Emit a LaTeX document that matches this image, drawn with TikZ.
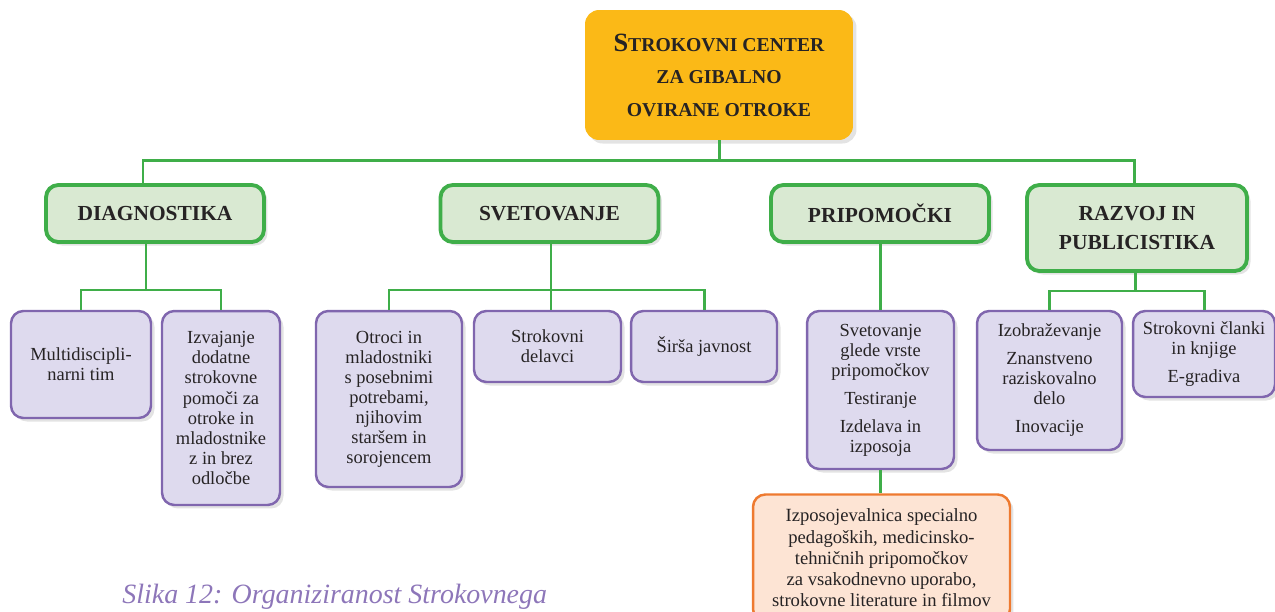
\documentclass[tikz,border=0pt]{standalone}
\usepackage{fontspec}
\setmainfont{Liberation Serif}
\usetikzlibrary{calc,shadows}

\definecolor{topfill}{HTML}{FBB917}
\definecolor{grline}{HTML}{3FAE49}
\definecolor{grfill}{HTML}{D9E9D2}
\definecolor{puline}{HTML}{8066AE}
\definecolor{pufill}{HTML}{DEDAEE}
\definecolor{orline}{HTML}{EE7A30}
\definecolor{orfill}{HTML}{FDE4D4}
\definecolor{captext}{HTML}{8D76B9}
\definecolor{inktext}{HTML}{262324}

\newcommand{\firstcap}[1]{{\fontsize{15}{20}\selectfont #1}}

\tikzset{
  softshadow/.style={drop shadow={shadow xshift=2pt, shadow yshift=-2pt, opacity=0.18, fill=black!60}},
  link/.style={grline, line width=1.7pt},
  topbox/.style={fill=topfill, rounded corners=8pt, inner sep=0pt, align=center, text=inktext,
    font=\fontsize{11.2}{18.5}\selectfont\bfseries, softshadow},
  headbox/.style={draw=grline, fill=grfill, line width=2.2pt, rounded corners=7pt, inner sep=0pt,
    align=center, text=inktext, font=\fontsize{12.2}{17}\selectfont\bfseries, softshadow},
  leafbox/.style={draw=puline, fill=pufill, line width=1.4pt, rounded corners=7pt, inner sep=0pt,
    align=center, text=inktext, font=\fontsize{10.5}{11.4}\selectfont, softshadow},
  lendbox/.style={leafbox, draw=orline, fill=orfill, font=\fontsize{10.6}{12.1}\selectfont},
}

\begin{document}
\begin{tikzpicture}[x=0.02cm, y=-0.02cm]
	\useasboundingbox (0,0) rectangle (1275,612);
	% top
	\node[topbox, minimum width=5.36cm, minimum height=2.6cm] (top) at (719,75)
		{\firstcap{S}TROKOVNI CENTER\\ ZA GIBALNO\\ OVIRANE OTROKE};
	% second level
	\node[headbox, minimum width=4.36cm, minimum height=1.14cm] (diag) at (155,213.5) {DIAGNOSTIKA};
	\node[headbox, minimum width=4.36cm, minimum height=1.14cm] (svet) at (549.5,213.5) {SVETOVANJE};
	\node[headbox, minimum width=4.36cm, minimum height=1.14cm] (prip) at (880,213.5) {PRIPOMOČKI};
	\node[headbox, minimum width=4.4cm, minimum height=1.72cm] (razv) at (1137,228) {RAZVOJ IN\\ PUBLICISTIKA};
	% third level
	\node[leafbox, minimum width=2.8cm, minimum height=2.14cm] (multi) at (81,364.5) {Multidiscipli-\\ narni tim};
	\node[leafbox, minimum width=2.36cm, minimum height=3.88cm] (izv) at (221,408)
		{Izvajanje\\ dodatne\\ strokovne\\ pomoči za\\ otroke in\\ mladostnike\\ z in brez\\ odločbe};
	\node[leafbox, minimum width=2.92cm, minimum height=3.52cm] (otroci) at (389,399)
		{Otroci in\\ mladostniki\\ s posebnimi\\ potrebami,\\ njihovim\\ staršem in\\ sorojencem};
	\node[leafbox, minimum width=2.94cm, minimum height=1.42cm] (strok) at (547.5,346.5) {Strokovni\\ delavci};
	\node[leafbox, minimum width=2.92cm, minimum height=1.42cm] (sirsa) at (704,346.5) {Širša javnost};
	\node[leafbox, minimum width=2.94cm, minimum height=3.16cm] (svetp) at (880.5,390)
		{Svetovanje\\ glede vrste\\ pripomočkov\\[4.5pt] Testiranje\\[4.5pt] Izdelava in\\ izposoja};
	\node[leafbox, minimum width=2.9cm, minimum height=2.78cm] (izob) at (1049.5,380.5)
		{Izobraževanje\\[4.5pt] Znanstveno\\ raziskovalno\\ delo\\[4.5pt] Inovacije};
	\node[leafbox, minimum width=2.84cm, minimum height=1.72cm] (clanki) at (1204,354)
		{Strokovni članki\\ in knjige\\[4.5pt] E-gradiva};
	\node[lendbox, minimum width=5.14cm, minimum height=2.54cm] (izpos) at (881.5,558)
		{Izposojevalnica specialno\\ pedagoških, medicinsko-\\ tehničnih pripomočkov\\ za vsakodnevno uporabo,\\ strokovne literature in filmov};
	% junctions
	\coordinate (bus) at (719,160.5);
	\coordinate (diagbus) at (146,290);
	\coordinate (svetbus) at (551,290);
	\coordinate (razvbus) at (1135,291);
	% connectors
	\draw[link] (top.south) -- (bus);
	\draw[link] ($(diag.north)+(-12,0)$) |- (bus) -| ($(razv.north)+(-3,0)$);
	\draw[link] ($(svet.north)+(1.5,0)$) -- ($(svet.north)+(1.5,0)$ |- bus);
	\draw[link] ($(prip.north)+(2,0)$) -- ($(prip.north)+(2,0)$ |- bus);
	\draw[link] (diag.south -| diagbus) -- (diagbus);
	\draw[link] (multi.north) |- (diagbus) -| (izv.north);
	\draw[link] (svet.south -| svetbus) -- (strok.north -| svetbus);
	\draw[link] (otroci.north) |- (svetbus) -| (sirsa.north);
	\draw[link] (prip.south) -- (prip.south |- svetp.north);
	\draw[link] (svetp.south) -- (svetp.south |- izpos.north);
	\draw[link] (razv.south -| razvbus) -- (razvbus);
	\draw[link] (izob.north) |- (razvbus) -| (clanki.north);
	% caption
	\node[anchor=base west, inner sep=0pt, text=captext, font=\fontsize{15.9}{19}\selectfont\itshape] (cap) at (122,603)
		{Slika 12: Organiziranost Strokovnega};
\end{tikzpicture}
\end{document}
